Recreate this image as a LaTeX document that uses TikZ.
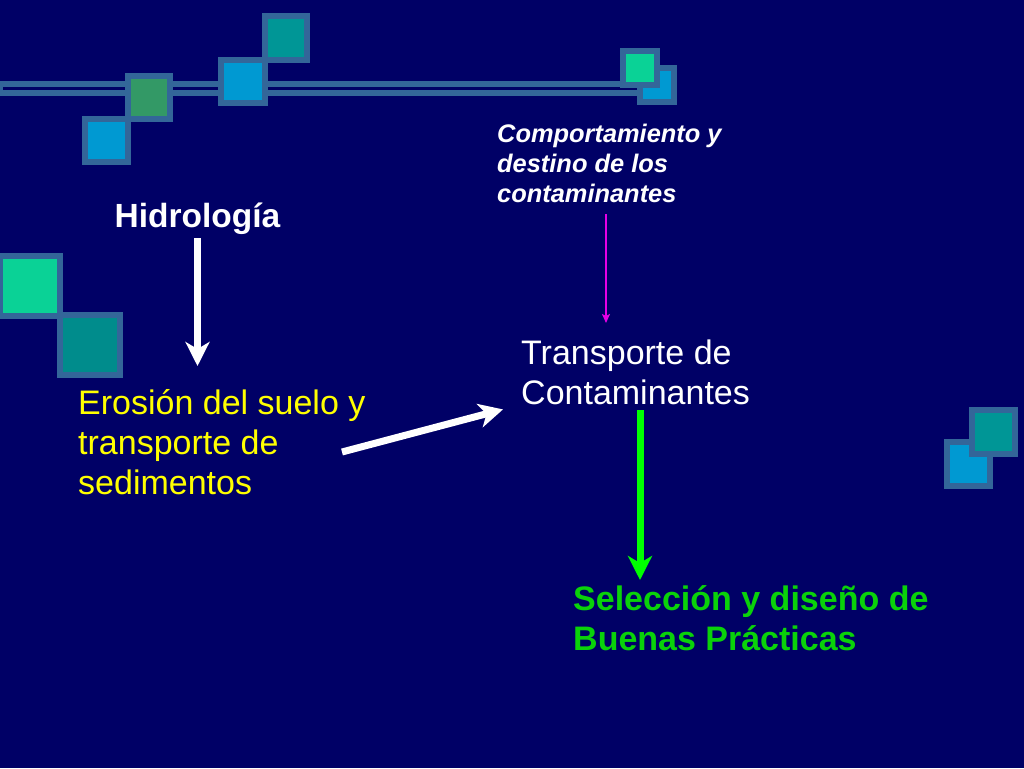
\documentclass[tikz,border=0pt]{standalone}
\usepackage{fontspec}
\setmainfont{Liberation Sans}
\usetikzlibrary{arrows.meta,calc}
\definecolor{bgnavy}{RGB}{0,0,102}
\definecolor{sqborder}{RGB}{51,102,153}
\definecolor{sqteal}{RGB}{0,150,150}
\definecolor{sqtealdk}{RGB}{0,140,140}
\definecolor{sqblue}{RGB}{0,153,210}
\definecolor{sqgreen}{RGB}{51,153,102}
\definecolor{sqaqua}{RGB}{10,210,150}
\definecolor{txtyellow}{RGB}{255,255,0}
\definecolor{txtgreen}{RGB}{10,210,10}
\definecolor{arrgreen}{RGB}{0,255,0}
\definecolor{arrmag}{RGB}{230,0,230}
\tikzset{
  sqbox/.style={draw=sqborder, line width=6pt},
  txt/.style={inner sep=0pt, text=white, font=\fontsize{34}{40}\selectfont},
  bigarrow/.style={line width=7pt, -{Stealth[length=24pt,width=24pt,inset=7pt]}},
  thinarrow/.style={line width=2.5pt, -{Stealth[length=9pt,width=8pt,inset=2pt]}}
}
\begin{document}
\begin{tikzpicture}[x=1pt,y=-1pt]
\fill[bgnavy] (0,0) rectangle (1024,768);
\useasboundingbox (0,0) rectangle (1024,768);
% double line
\draw[draw=sqborder, line width=6pt] (0,84) rectangle (650,93);
% decorative squares
\draw[sqbox, fill=sqteal] (265,16) rectangle (307,60);
\draw[sqbox, fill=sqblue] (221,60) rectangle (265,103);
\draw[sqbox, fill=sqgreen] (128,76) rectangle (170,119);
\draw[sqbox, fill=sqblue] (85,119) rectangle (128,162);
\draw[sqbox, fill=sqblue] (640,68) rectangle (674,102);
\draw[sqbox, fill=sqaqua] (623,51) rectangle (657,85);
\draw[sqbox, fill=sqaqua] (0,256) rectangle (60,316);
\draw[sqbox, fill=sqtealdk] (60,315) rectangle (120,375);
\draw[sqbox, fill=sqblue] (947,442) rectangle (990,486);
\draw[sqbox, fill=sqteal] (972,410) rectangle (1015,454);
% texts
\node[txt, font=\fontsize{33.5}{40}\selectfont\bfseries, anchor=base] (hid) at (197.5,227) {Hidrología};
\node[txt, text=txtyellow, anchor=north west, align=left] (ero) at (78,386)
  {\strut Erosión del suelo y\\\strut transporte de\\\strut sedimentos};
\node[txt, anchor=north west, align=left] (tra) at (521,336)
  {\strut Transporte de\\\strut Contaminantes};
\node[txt, text=txtgreen, font=\fontsize{34}{40}\selectfont\bfseries, anchor=north west, align=left] (sel) at (573,582)
  {\strut Selección y diseño de\\\strut Buenas Prácticas};
\node[txt, font=\fontsize{25.4}{30}\selectfont\bfseries\itshape, anchor=north west, align=left] (comp) at (497,121)
  {\strut Comportamiento y\\\strut destino de los\\\strut contaminantes};
% arrows
\coordinate (dstart) at (342,452);
\draw[bigarrow, white, shorten <=4pt, shorten >=20pt] (hid.south) -- (hid.south |- ero.north);
\draw[bigarrow, white] (dstart) -- ($(tra.south west)+(-18,-7)$);
\draw[thinarrow, arrmag, shorten <=3pt, shorten >=13pt] (comp.south -| 606,0) -- (tra.north -| 606,0);
\draw[bigarrow, arrgreen, shorten <=-6pt, shorten >=2pt] (tra.south -| 640,0) -- (sel.north -| 640,0);
\end{tikzpicture}
\end{document}
